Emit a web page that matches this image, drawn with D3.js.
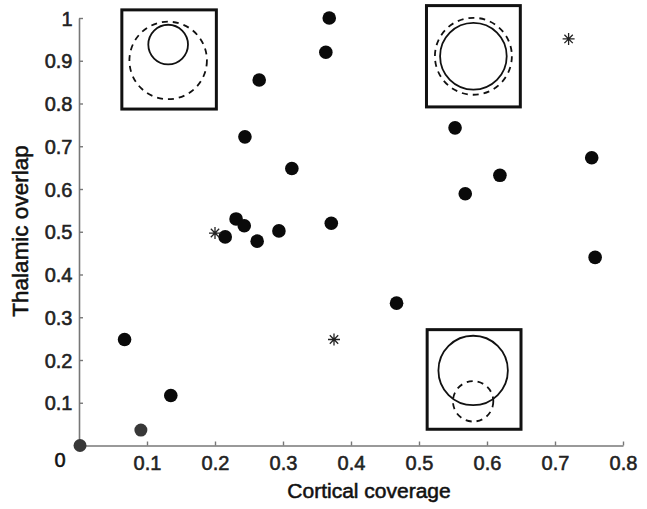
<!DOCTYPE html>
<html><head><meta charset="utf-8">
<script src="https://cdn.jsdelivr.net/npm/d3@7"></script>
<style>body{margin:0;background:#fff}svg{display:block}</style>
</head><body>
<svg id="c" width="647" height="509"></svg>
<script>
// Data
const xTicks = [0.1,0.2,0.3,0.4,0.5,0.6,0.7,0.8];
const yTicks = [0.1,0.2,0.3,0.4,0.5,0.6,0.7,0.8,0.9,1];
const dotsX = [0.368,0.363,0.265,0.244,0.313,0.231,0.243,0.215,0.262,0.294,0.371,0.553,0.754,0.619,0.568,0.759,0.467,0.067,0.135];
const dotsY = [1.000,0.920,0.855,0.722,0.648,0.530,0.514,0.488,0.478,0.502,0.520,0.743,0.673,0.632,0.589,0.440,0.333,0.248,0.117];
const lowDotsX = [0.091,0.0015];
const lowDotsY = [0.036,0.0];
const starsX = [0.200,0.720,0.375];
const starsY = [0.497,0.951,0.248];
// inset boxes (data coords): x0,x1,y0,y1 ; circles relative to box (fraction of width/height)
const insetX0 = [0.063,0.511,0.512];
const insetX1 = [0.202,0.649,0.650];
const insetY0 = [0.787,0.792,0.038];
const insetY1 = [1.019,1.029,0.271];
const solidCx = [0.49,0.50,0.49], solidCy = [0.35,0.50,0.41], solidR = [0.21,0.355,0.37];
const dashCx  = [0.49,0.50,0.49], dashCy  = [0.51,0.50,0.72], dashR  = [0.41,0.41,0.215];

const svg = d3.select("#c");
const x = d3.scaleLinear().domain([0,0.8]).range([79,623]);
const y = d3.scaleLinear().domain([0,1]).range([445.5,18]);
const font = "'Liberation Sans', Arial, Helvetica, sans-serif";
const heavy = sel => sel.attr("stroke","currentColor").attr("stroke-width",0.55).attr("paint-order","stroke");

// axes
const ax = svg.append("g").attr("transform","translate(0,445.5)")
  .call(d3.axisBottom(x).tickValues(xTicks).tickSize(-4).tickSizeOuter(0).tickPadding(10).tickFormat(d3.format("")));
const ay = svg.append("g").attr("transform","translate(79,0)")
  .call(d3.axisLeft(y).tickValues(yTicks).tickSize(-4).tickSizeOuter(0).tickPadding(6.5).tickFormat(d3.format("")));
[ax,ay].forEach(g=>{
  g.select(".domain").attr("stroke","#777").attr("stroke-width",1.6);
  g.selectAll(".tick line").attr("stroke","#777").attr("stroke-width",1.4);
  g.selectAll(".tick text").attr("fill","#222").style("color","#222").style("font-family",font).style("font-size","20px").call(heavy);
});
ax.selectAll(".tick text").attr("dy","0.71em");
ay.selectAll(".tick text").attr("dy","0.35em");
svg.append("text").attr("x",60).attr("y",466.5).attr("text-anchor","middle").style("color","#111")
  .style("font-family",font).style("font-size","20px").attr("fill","#111").text("0").call(heavy);

// axis titles
svg.append("text").attr("x",369).attr("y",498).attr("text-anchor","middle").style("color","#111")
  .style("font-family",font).style("font-size","21px").attr("fill","#111").text("Cortical coverage").call(heavy);
svg.append("text").attr("transform","translate(28,231) rotate(-90)").attr("text-anchor","middle").style("color","#111")
  .style("font-family",font).style("font-size","22.5px").attr("fill","#111").text("Thalamic overlap").call(heavy);

// insets
const insets = d3.range(insetX0.length);
const ig = svg.selectAll("g.inset").data(insets).join("g").attr("class","inset");
ig.append("rect")
  .attr("x",i=>x(insetX0[i])).attr("y",i=>y(insetY1[i]))
  .attr("width",i=>x(insetX1[i])-x(insetX0[i])).attr("height",i=>y(insetY0[i])-y(insetY1[i]))
  .attr("fill","#fff").attr("stroke","#111").attr("stroke-width",3);
const bw = i=>x(insetX1[i])-x(insetX0[i]);
const bh = i=>y(insetY0[i])-y(insetY1[i]);
ig.append("circle")
  .attr("cx",i=>x(insetX0[i])+dashCx[i]*bw(i)).attr("cy",i=>y(insetY1[i])+dashCy[i]*bh(i))
  .attr("r",i=>dashR[i]*bw(i)).attr("fill","none").attr("stroke","#111").attr("stroke-width",1.8)
  .attr("stroke-dasharray","6,5");
ig.append("circle")
  .attr("cx",i=>x(insetX0[i])+solidCx[i]*bw(i)).attr("cy",i=>y(insetY1[i])+solidCy[i]*bh(i))
  .attr("r",i=>solidR[i]*bw(i)).attr("fill","none").attr("stroke","#111").attr("stroke-width",1.8);

// dots
svg.selectAll("circle.dot").data(d3.range(dotsX.length)).join("circle").attr("class","dot")
  .attr("cx",i=>x(dotsX[i])).attr("cy",i=>y(dotsY[i])).attr("r",6.8).attr("fill","#0a0a0a");
svg.selectAll("circle.low").data(d3.range(lowDotsX.length)).join("circle").attr("class","low")
  .attr("cx",i=>x(lowDotsX[i])).attr("cy",i=>y(lowDotsY[i])).attr("r",6.5).attr("fill","#383838");

// stars
const star = svg.selectAll("g.star").data(d3.range(starsX.length)).join("g").attr("class","star")
  .attr("transform",i=>`translate(${x(starsX[i])},${y(starsY[i])})`);
const s = 6;
const armPath = `M${-s},0L${s},0M0,${-s}L0,${s}M${-s*0.7},${-s*0.7}L${s*0.7},${s*0.7}M${-s*0.7},${s*0.7}L${s*0.7},${-s*0.7}`;
star.append("path").attr("d",armPath).attr("stroke","#222").attr("stroke-width",1.3).attr("fill","none");
</script>
</body></html>
